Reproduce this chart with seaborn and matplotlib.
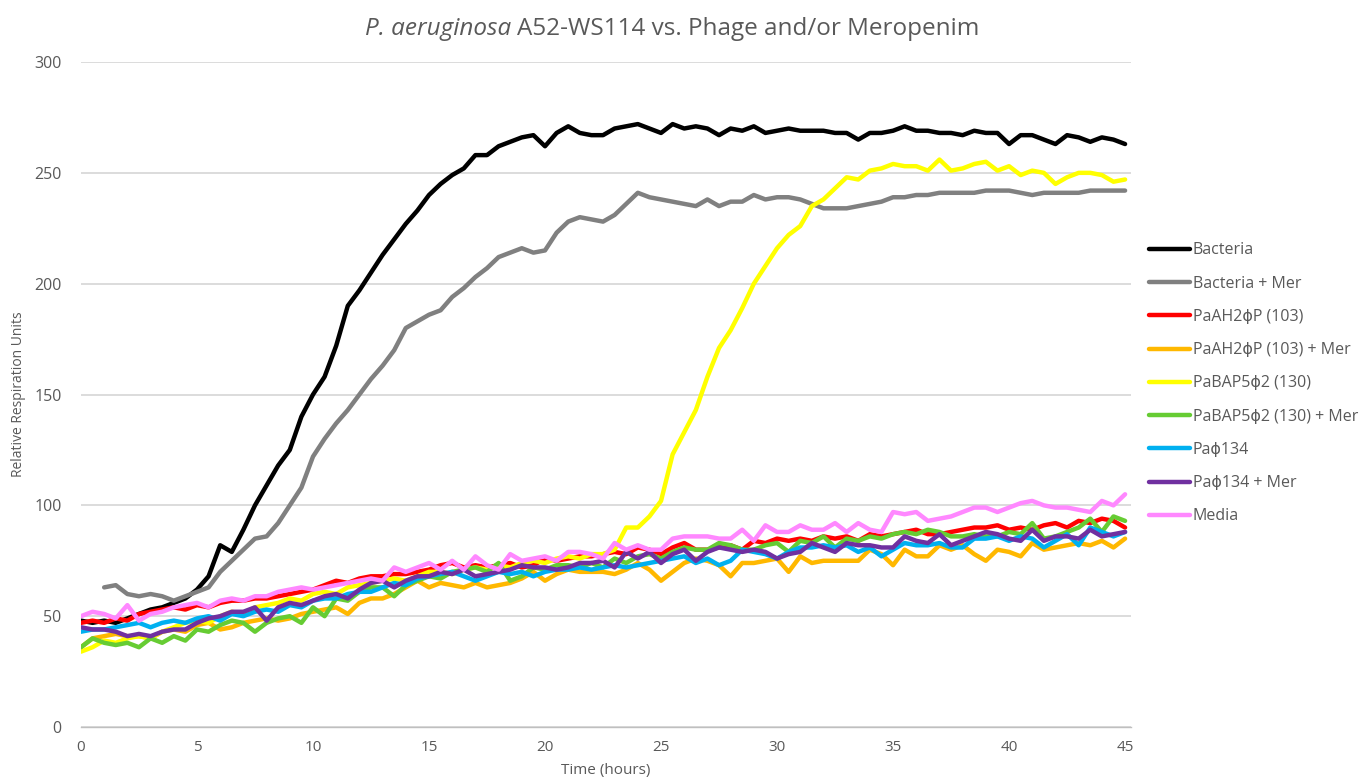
import numpy as np
import pandas as pd
import matplotlib
matplotlib.use("Agg")
import matplotlib.pyplot as plt
from matplotlib.ticker import MultipleLocator
import seaborn as sns

# time axis, readings every half hour
hours = np.arange(0, 45.5, 0.5)

bacteria = [
    48, 47, 48, 47, 49, 51, 53, 54, 56, 58,
    62, 68, 82, 79, 89, 100, 109, 118, 125, 140,
    150, 158, 172, 190, 197, 205, 213, 220, 227, 233,
    240, 245, 249, 252, 258, 258, 262, 264, 266, 267,
    262, 268, 271, 268, 267, 267, 270, 271, 272, 270,
    268, 272, 270, 271, 270, 267, 270, 269, 271, 268,
    269, 270, 269, 269, 269, 268, 268, 265, 268, 268,
    269, 271, 269, 269, 268, 268, 267, 269, 268, 268,
    263, 267, 267, 265, 263, 267, 266, 264, 266, 265,
    263]
bacteria_mer = [
    np.nan, np.nan, 63, 64, 60, 59, 60, 59, 57, 59,
    61, 63, 70, 75, 80, 85, 86, 92, 100, 108,
    122, 130, 137, 143, 150, 157, 163, 170, 180, 183,
    186, 188, 194, 198, 203, 207, 212, 214, 216, 214,
    215, 223, 228, 230, 229, 228, 231, 236, 241, 239,
    238, 237, 236, 235, 238, 235, 237, 237, 240, 238,
    239, 239, 238, 236, 234, 234, 234, 235, 236, 237,
    239, 239, 240, 240, 241, 241, 241, 241, 242, 242,
    242, 241, 240, 241, 241, 241, 241, 242, 242, 242,
    242]
pah2 = [
    47, 48, 47, 49, 48, 51, 52, 53, 54, 53,
    55, 54, 56, 57, 57, 58, 58, 59, 60, 61,
    62, 64, 66, 65, 67, 68, 68, 69, 69, 70,
    71, 73, 74, 72, 73, 72, 73, 74, 72, 73,
    76, 75, 76, 77, 77, 78, 79, 78, 81, 80,
    78, 81, 83, 80, 80, 81, 82, 80, 84, 83,
    85, 84, 85, 84, 86, 85, 86, 84, 87, 86,
    87, 88, 89, 87, 87, 88, 89, 90, 90, 91,
    89, 90, 89, 91, 92, 90, 93, 92, 94, 93,
    90]
pah2_mer = [
    36, 40, 41, 42, 41, 41, 40, 43, 44, 43,
    46, 47, 44, 45, 47, 48, 49, 48, 49, 51,
    52, 53, 54, 51, 56, 58, 58, 60, 63, 66,
    63, 65, 64, 63, 65, 63, 64, 65, 67, 70,
    66, 69, 71, 70, 70, 70, 69, 71, 74, 71,
    66, 70, 74, 76, 75, 73, 68, 74, 74, 75,
    76, 70, 77, 74, 75, 75, 75, 75, 80, 78,
    73, 80, 77, 77, 82, 80, 82, 78, 75, 80,
    79, 77, 83, 80, 81, 82, 83, 82, 84, 81,
    85]
pabap5 = [
    34, 36, 39, 38, 40, 41, 40, 43, 45, 47,
    48, 47, 50, 52, 51, 54, 55, 56, 58, 57,
    60, 61, 60, 63, 64, 65, 66, 67, 66, 68,
    70, 70, 69, 71, 72, 71, 73, 72, 74, 75,
    74, 76, 77, 76, 78, 78, 80, 90, 90, 95,
    102, 123, 133, 143, 158, 171, 179, 189, 200, 208,
    216, 222, 226, 235, 238, 243, 248, 247, 251, 252,
    254, 253, 253, 251, 256, 251, 252, 254, 255, 251,
    253, 249, 251, 250, 245, 248, 250, 250, 249, 246,
    247]
pabap5_mer = [
    36, 40, 38, 37, 38, 36, 40, 38, 41, 39,
    44, 43, 46, 48, 47, 43, 47, 49, 50, 47,
    54, 50, 58, 57, 61, 63, 63, 59, 64, 66,
    68, 67, 70, 71, 72, 70, 74, 66, 68, 72,
    71, 73, 73, 72, 74, 72, 76, 74, 77, 78,
    76, 79, 81, 80, 80, 83, 82, 80, 80, 82,
    83, 79, 84, 83, 86, 81, 85, 84, 86, 85,
    87, 88, 87, 89, 88, 86, 86, 87, 86, 86,
    88, 87, 92, 85, 86, 88, 90, 94, 88, 95,
    93]
pa134 = [
    43, 44, 44, 45, 46, 47, 45, 47, 48, 47,
    49, 50, 48, 51, 50, 52, 53, 52, 55, 54,
    57, 58, 58, 60, 61, 61, 63, 65, 64, 67,
    68, 69, 70, 68, 66, 68, 70, 69, 70, 68,
    70, 71, 71, 72, 71, 72, 73, 72, 73, 74,
    75, 76, 77, 74, 76, 73, 75, 80, 79, 78,
    76, 79, 81, 81, 82, 81, 82, 79, 81, 77,
    80, 83, 82, 82, 83, 81, 81, 85, 85, 86,
    84, 86, 85, 81, 84, 87, 82, 90, 88, 86,
    88]
pa134_mer = [
    45, 44, 44, 43, 41, 42, 41, 43, 44, 44,
    47, 49, 50, 52, 52, 54, 48, 54, 56, 55,
    57, 59, 60, 58, 62, 65, 66, 63, 66, 68,
    68, 70, 69, 71, 68, 69, 70, 71, 73, 72,
    72, 71, 72, 74, 74, 75, 72, 79, 76, 79,
    74, 78, 80, 75, 79, 81, 80, 79, 80, 79,
    76, 78, 79, 83, 81, 79, 83, 82, 82, 81,
    81, 86, 84, 83, 87, 82, 84, 86, 88, 87,
    85, 84, 89, 84, 86, 86, 85, 89, 86, 87,
    88]
media = [
    50, 52, 51, 49, 55, 48, 51, 52, 54, 55,
    56, 54, 57, 58, 57, 59, 59, 61, 62, 63,
    62, 63, 64, 65, 66, 67, 66, 72, 70, 72,
    74, 71, 75, 71, 77, 73, 71, 78, 75, 76,
    77, 75, 79, 79, 78, 76, 83, 80, 82, 80,
    80, 85, 86, 86, 86, 85, 85, 89, 84, 91,
    88, 88, 91, 89, 89, 92, 88, 92, 89, 88,
    97, 96, 97, 93, 94, 95, 97, 99, 99, 97,
    99, 101, 102, 100, 99, 99, 98, 97, 102, 100,
    105]

names = ["Bacteria", "Bacteria + Mer", "PaAH2\u03d5P (103)", "PaAH2\u03d5P (103) + Mer",
         "PaBAP5\u03d52 (130)", "PaBAP5\u03d52 (130) + Mer", "Pa\u03d5134", "Pa\u03d5134 + Mer",
         "Media"]
series = [bacteria, bacteria_mer, pah2, pah2_mer, pabap5, pabap5_mer, pa134, pa134_mer, media]
colors = ["#000000", "#808080", "#FF0000", "#FFB800", "#FFFF00",
          "#66CC33", "#00B0F0", "#7030A0", "#FF88FF"]

frames = [pd.DataFrame({"hours": hours, "value": vals, "group": name})
          for name, vals in zip(names, series)]
df = pd.concat(frames, ignore_index=True).dropna()

sns.set_style("white")
plt.rcParams["font.family"] = ["Open Sans", "DejaVu Sans"]

fig = plt.figure(figsize=(13.63, 7.81), dpi=100)
ax = fig.add_axes([0.0594, 0.0691, 0.7703, 0.8515])

sns.lineplot(data=df, x="hours", y="value", hue="group", hue_order=names,
             palette=colors, linewidth=3.2, estimator=None, errorbar=None,
             sort=False, ax=ax)

ax.set_xlim(0, 45.25)
ax.set_ylim(0, 300)
ax.set_yticks(np.arange(0, 301, 50))
ax.set_xticks(np.arange(0, 46, 5))
ax.xaxis.set_minor_locator(MultipleLocator(1.25))
ax.grid(axis="y", color="#D9D9D9", linewidth=1.3)
ax.set_axisbelow(True)
for side in ["top", "right", "left"]:
    ax.spines[side].set_visible(False)
ax.spines["bottom"].set_color("#BFBFBF")
ax.spines["bottom"].set_linewidth(1.0)
ax.tick_params(axis="y", length=0, labelsize=11.5, labelcolor="#595959", pad=14)
ax.tick_params(axis="x", which="both", direction="out", length=5, color="#BFBFBF",
               labelsize=11, labelcolor="#595959", pad=4)

ax.set_xlabel("Time (hours)", fontsize=11, color="#595959", labelpad=6)
ax.set_ylabel("Relative Respiration Units", fontsize=10, color="#595959", labelpad=6)

# title: italic species name followed by plain text, centred as one line
renderer = fig.canvas.get_renderer()
t_it = fig.text(0, 0.963, "P. aeruginosa ", style="italic", fontsize=17.5,
                color="#595959", va="center", ha="left")
t_rm = fig.text(0, 0.963, "A52-WS114 vs. Phage and/or Meropenim", fontsize=17.5,
                color="#595959", va="center", ha="left")
w_it = t_it.get_window_extent(renderer).width / fig.bbox.width
w_rm = t_rm.get_window_extent(renderer).width / fig.bbox.width
x0 = 0.493 - (w_it + w_rm) / 2
t_it.set_x(x0)
t_rm.set_x(x0 + w_it)

handles, labels = ax.get_legend_handles_labels()
for h in handles:
    h.set_linewidth(3.2)
ax.legend(handles, labels, loc="center left", bbox_to_anchor=(0.838, 0.509),
          bbox_transform=fig.transFigure, frameon=False, fontsize=11.5,
          labelspacing=1.08, handlelength=2.6, handletextpad=0.15,
          borderaxespad=0, labelcolor="#595959")

fig.savefig("out.png", dpi=100)
